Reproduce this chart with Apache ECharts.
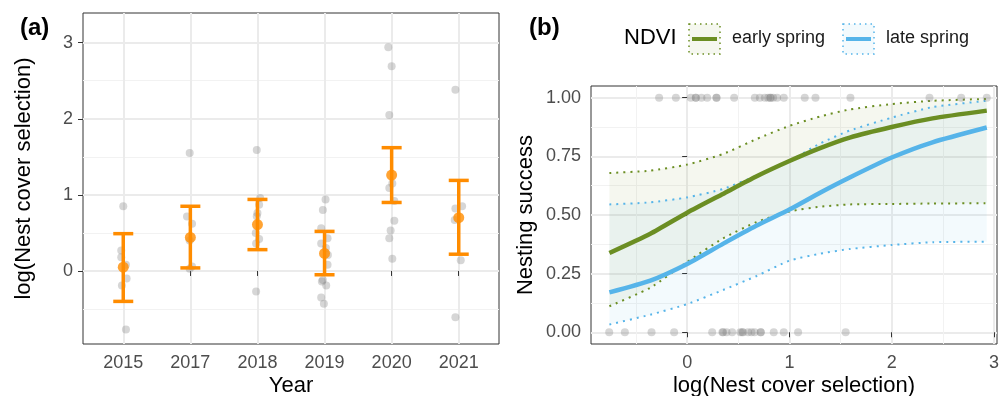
<!DOCTYPE html>
<html>
<head>
<meta charset="utf-8">
<script src="https://cdn.jsdelivr.net/npm/echarts@6/dist/echarts.min.js"></script>
<style>
  html, body { margin: 0; padding: 0; background: #fff; }
  #chart { width: 1007px; height: 396px; }
</style>
</head>
<body>
<div id="chart"></div>
<script>
// Panel (a): nest cover selection by year
const years = ['2015', '2017', '2018', '2019', '2020', '2021'];
const yearMean = [0.05, 0.44, 0.61, 0.23, 1.26, 0.70];
const yearLower = [-0.40, 0.04, 0.28, -0.05, 0.90, 0.22];
const yearUpper = [0.49, 0.85, 0.94, 0.52, 1.62, 1.19];

const obs2015 = [0.85, 0.27, 0.18, 0.08, -0.10, -0.19, -0.77];
const jit2015 = [0.00, -0.03, -0.03, 0.04, 0.05, -0.02, 0.04];
const obs2017 = [1.55, 0.715, 0.62, 0.40, 0.06, 0.03];
const jit2017 = [-0.01, -0.05, 0.025, -0.01, 0.025, -0.01];
const obs2018 = [1.59, 0.96, 0.87, 0.76, 0.72, 0.50, 0.42, 0.36, -0.27];
const jit2018 = [-0.01, 0.04, 0.025, 0.00, -0.01, -0.025, 0.025, -0.02, -0.02];
const obs2019 = [0.94, 0.80, 0.56, 0.43, 0.36, 0.30, 0.21, 0.08, -0.12, -0.14, -0.19, -0.35, -0.43];
const jit2019 = [0.015, -0.025, -0.05, 0.045, -0.05, 0.02, 0.05, 0.045, -0.025, -0.04, 0.025, -0.05, -0.01];
const obs2020 = [2.94, 2.69, 2.05, 1.15, 1.09, 0.92, 0.66, 0.53, 0.43, 0.16];
const jit2020 = [-0.05, 0.00, -0.035, 0.01, -0.035, 0.04, 0.04, -0.015, -0.035, 0.01];
const obs2021 = [2.38, 0.85, 0.82, 0.67, 0.14, -0.61];
const jit2021 = [-0.05, 0.05, -0.05, -0.06, 0.03, -0.05];

// Panel (b): predicted nesting success
const coverX = [-0.76, -0.36, 0, 0.35, 0.68, 1.0, 1.3, 1.59, 2.0, 2.4, 2.93];
const earlyFit = [0.338, 0.42, 0.51, 0.59, 0.665, 0.73, 0.785, 0.83, 0.875, 0.912, 0.945];
const earlyUpper = [0.679, 0.689, 0.715, 0.76, 0.824, 0.88, 0.92, 0.95, 0.973, 0.987, 0.995];
const earlyLower = [0.111, 0.19, 0.30, 0.40, 0.47, 0.515, 0.535, 0.545, 0.547, 0.549, 0.55];
const lateFit = [0.17, 0.22, 0.291, 0.377, 0.455, 0.523, 0.595, 0.66, 0.745, 0.81, 0.873];
const lateUpper = [0.545, 0.554, 0.575, 0.611, 0.668, 0.73, 0.805, 0.86, 0.915, 0.96, 0.987];
const lateLower = [0.033, 0.075, 0.12, 0.18, 0.24, 0.305, 0.335, 0.355, 0.372, 0.384, 0.386];

// observed nests: successful (1) and failed (0)
const successX = [-0.274, -0.11, 0.036, 0.085, 0.085, 0.14, 0.196, 0.287, 0.287, 0.46, 0.662, 0.711,
  0.76, 0.792, 0.815, 0.815, 0.841, 0.88, 0.945, 1.15, 1.255, 1.597, 2.37, 2.68, 2.93];
const failX = [-0.762, -0.609, -0.348, -0.127, 0.245, 0.345, 0.352, 0.385, 0.44, 0.52, 0.538, 0.547,
  0.596, 0.629, 0.66, 0.72, 0.72, 0.847, 0.945, 1.085, 1.55];

const aTicksX = [1, 2, 3, 4, 5, 6];
const aTicksY = [0, 1, 2, 3];
const aMinorY = [-0.5, 0.5, 1.5, 2.5];
const bTicksX = [0, 1, 2, 3];
const bMinorX = [-0.5, 0.5, 1.5, 2.5];
const bTicksY = [0, 0.25, 0.5, 0.75, 1];
const bMinorY = [0.125, 0.375, 0.625, 0.875];

const FONT = 'Liberation Sans, Arial, sans-serif';
const ORANGE = '#FF8C00';
const GREEN = '#6B8E23';
const BLUE = '#56B4E9';
const POINT = 'rgba(128,128,128,0.4)';
const GREEN_FILL = 'rgba(107,142,35,0.07)';
const BLUE_FILL = 'rgba(86,180,233,0.07)';

const allObs = [obs2015, obs2017, obs2018, obs2019, obs2020, obs2021];
const allJit = [jit2015, jit2017, jit2018, jit2019, jit2020, jit2021];
const yearPoints = [];
allObs.forEach((vals, i) => {
    vals.forEach((v, j) => yearPoints.push([i + 1 + allJit[i][j], v]));
});

function pairs(xs, ys) { return xs.map((x, i) => [x, ys[i]]); }

// Major axis: labels, ticks and major grid lines
function majorAxis(gridIndex, min, max, ticks, formatter, extra) {
    return Object.assign({
        type: 'value', gridIndex, min, max,
        axisLine: { show: false },
        axisTick: { show: true, customValues: ticks, length: 5, lineStyle: { color: '#333', width: 1 } },
        axisLabel: { customValues: ticks, formatter, color: '#4D4D4D', fontSize: 18, fontFamily: FONT, margin: 10 },
        splitLine: { show: true, lineStyle: { color: '#EBEBEB', width: 2 } },
        nameLocation: 'middle',
        nameMoveOverlap: false,
        nameTextStyle: { color: '#000', fontSize: 22, fontFamily: FONT }
    }, extra || {});
}
// Minor grid lines only
function minorAxis(gridIndex, min, max, ticks, position) {
    return {
        type: 'value', gridIndex, min, max, position,
        axisLine: { show: false },
        axisTick: { show: false, customValues: ticks },
        axisLabel: { show: false, customValues: ticks },
        splitLine: { show: ticks.length > 0, lineStyle: { color: '#F2F2F2', width: 1 } }
    };
}

// confidence band drawn as one polygon through the axis scales
function ribbon(lower, upper, fill) {
    return {
        type: 'custom', xAxisIndex: 2, yAxisIndex: 2, z: 1, silent: true,
        data: coverX.map((x, i) => [x, lower[i], upper[i]]),
        encode: { x: 0, y: [1, 2] },
        renderItem: function (params, api) {
            if (params.dataIndex !== 0) return null;
            const top = coverX.map((x, i) => api.coord([x, upper[i]]));
            const bottom = coverX.map((x, i) => api.coord([x, lower[i]])).reverse();
            return { type: 'polygon', shape: { points: top.concat(bottom) }, style: { fill } };
        }
    };
}
function curve(ys, color, width, type) {
    return { type: 'line', xAxisIndex: 2, yAxisIndex: 2, smooth: 0.2, data: pairs(coverX, ys),
             showSymbol: false, silent: true,
             lineStyle: { color, width, type, cap: 'butt' }, z: type === 'solid' ? 4 : 3 };
}

const gridBase = { show: true, borderColor: '#333', borderWidth: 1, backgroundColor: 'transparent',
                   containLabel: false, outerBoundsMode: 'none' };

const chart = echarts.init(document.getElementById('chart'));
chart.setOption({
    animation: false,
    backgroundColor: '#fff',
    textStyle: { fontFamily: FONT },
    title: [
        { text: '(a)', left: 15, top: 11, textStyle: { fontSize: 24, fontWeight: 'bold', color: '#000', fontFamily: FONT } },
        { text: '(b)', left: 524, top: 11, textStyle: { fontSize: 24, fontWeight: 'bold', color: '#000', fontFamily: FONT } }
    ],
    grid: [
        Object.assign({ left: 83, top: 13, width: 416, height: 331 }, gridBase),
        Object.assign({ left: 591, top: 86, width: 406, height: 258 }, gridBase)
    ],
    xAxis: [
        majorAxis(0, 0.4, 6.6, aTicksX, v => years[Math.round(v) - 1], { name: 'Year', nameGap: 31 }),
        minorAxis(0, 0.4, 6.6, [], 'top'),
        majorAxis(1, -0.94, 3.03, bTicksX, v => String(v), { name: 'log(Nest cover selection)', nameGap: 31 }),
        minorAxis(1, -0.94, 3.03, bMinorX, 'top')
    ],
    yAxis: [
        majorAxis(0, -0.96, 3.39, aTicksY, v => String(v), { name: 'log(Nest cover selection)', nameGap: 48 }),
        minorAxis(0, -0.96, 3.39, aMinorY, 'right'),
        majorAxis(1, -0.05, 1.05, bTicksY, v => v.toFixed(2), { name: 'Nesting success', nameGap: 54 }),
        minorAxis(1, -0.05, 1.05, bMinorY, 'right')
    ],
    graphic: [
        { type: 'text', left: 624, top: 27, style: { text: 'NDVI', fontSize: 22, fontFamily: FONT, fill: '#000' } },
        { type: 'rect', shape: { x: 689, y: 24, width: 31, height: 30 },
          style: { fill: GREEN_FILL, stroke: GREEN, lineWidth: 1.5, lineDash: [1.5, 4] } },
        { type: 'line', shape: { x1: 692, y1: 39, x2: 717, y2: 39 }, style: { stroke: GREEN, lineWidth: 4 } },
        { type: 'text', left: 732, top: 29, style: { text: 'early spring', fontSize: 18, fontFamily: FONT, fill: '#1a1a1a' } },
        { type: 'rect', shape: { x: 843, y: 24, width: 31, height: 30 },
          style: { fill: BLUE_FILL, stroke: BLUE, lineWidth: 1.5, lineDash: [1.5, 4] } },
        { type: 'line', shape: { x1: 846, y1: 39, x2: 871, y2: 39 }, style: { stroke: BLUE, lineWidth: 4 } },
        { type: 'text', left: 886, top: 29, style: { text: 'late spring', fontSize: 18, fontFamily: FONT, fill: '#1a1a1a' } }
    ],
    series: [
        // panel (a)
        { type: 'scatter', xAxisIndex: 0, yAxisIndex: 0, data: yearPoints, symbolSize: 8,
          itemStyle: { color: POINT }, z: 2 },
        { type: 'custom', xAxisIndex: 0, yAxisIndex: 0, z: 3,
          data: years.map((y, i) => [i + 1, yearLower[i], yearUpper[i]]),
          encode: { x: 0, y: [1, 2] },
          renderItem: function (params, api) {
              const x = api.value(0);
              const lo = api.coord([x, api.value(1)]);
              const hi = api.coord([x, api.value(2)]);
              const hw = 10;
              const st = { stroke: ORANGE, lineWidth: 3.5 };
              return { type: 'group', children: [
                  { type: 'line', shape: { x1: lo[0], y1: lo[1], x2: hi[0], y2: hi[1] }, style: st },
                  { type: 'line', shape: { x1: lo[0] - hw, y1: lo[1], x2: lo[0] + hw, y2: lo[1] }, style: st },
                  { type: 'line', shape: { x1: hi[0] - hw, y1: hi[1], x2: hi[0] + hw, y2: hi[1] }, style: st }
              ] };
          } },
        { type: 'scatter', xAxisIndex: 0, yAxisIndex: 0, data: yearMean.map((m, i) => [i + 1, m]),
          symbolSize: 11, itemStyle: { color: ORANGE }, z: 4 },
        // panel (b)
        ribbon(earlyLower, earlyUpper, GREEN_FILL),
        ribbon(lateLower, lateUpper, BLUE_FILL),
        curve(earlyUpper, GREEN, 2, [2, 5]),
        curve(earlyLower, GREEN, 2, [2, 5]),
        curve(lateUpper, BLUE, 2, [2, 5]),
        curve(lateLower, BLUE, 2, [2, 5]),
        curve(earlyFit, GREEN, 4.5, 'solid'),
        curve(lateFit, BLUE, 4.5, 'solid'),
        { type: 'scatter', xAxisIndex: 2, yAxisIndex: 2, symbolSize: 8, itemStyle: { color: POINT }, z: 5,
          data: successX.map(x => [x, 1]).concat(failX.map(x => [x, 0])) }
    ]
});
</script>
</body>
</html>
